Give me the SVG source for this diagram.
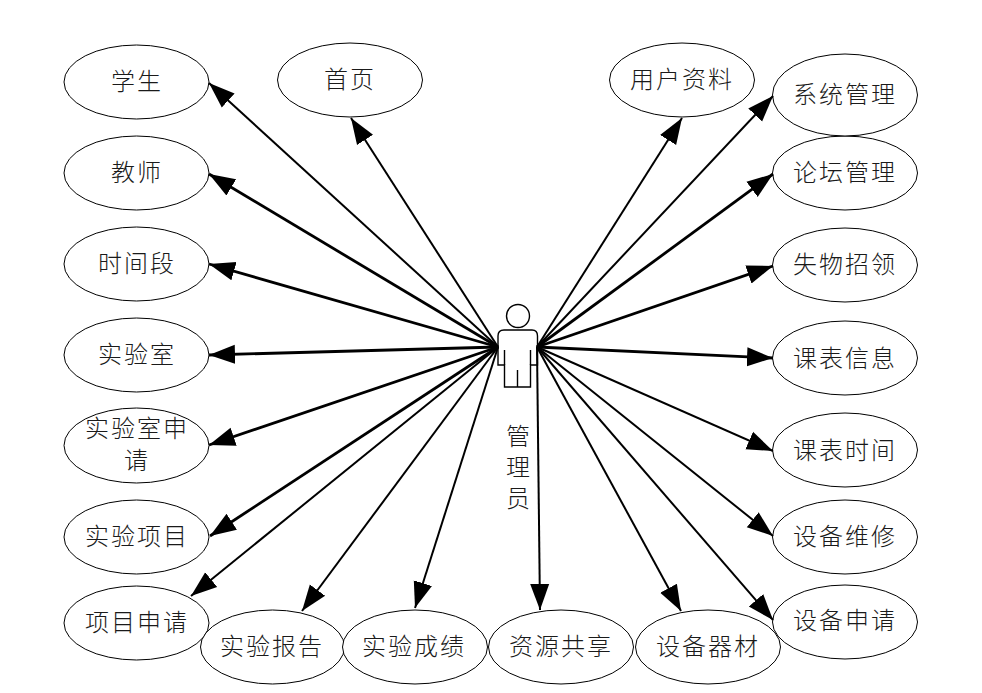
<svg xmlns="http://www.w3.org/2000/svg" width="982" height="693" viewBox="0 0 982 693">
<style>
.n{fill:#fff;stroke:#000;stroke-width:1}
text{font-family:"Noto Sans CJK SC","Liberation Serif",serif;font-size:24px;font-weight:300;fill:#1a1a1a;text-anchor:middle;dominant-baseline:central;letter-spacing:2px}
text.v{writing-mode:vertical-rl;text-anchor:start;letter-spacing:7px}
.c line{stroke:#000;stroke-width:2;marker-end:url(#a)}
.c line.b{stroke-width:2.800}
.p{fill:#fff;stroke:#000;stroke-width:1.400}
</style>
<defs><marker id="a" markerUnits="userSpaceOnUse" markerWidth="28" markerHeight="22" viewBox="0 0 28 22" refX="26" refY="11" orient="auto"><path d="M0 1.500 L26 11 L0 20.500Z" fill="#000"/></marker></defs>
<rect width="982" height="693" fill="#fff"/>
<g id="n1"><ellipse class="n" cx="136.500" cy="82" rx="72.500" ry="37"/><text x="137" y="79">学生</text></g>
<g id="n2"><ellipse class="n" cx="136.500" cy="173" rx="72.500" ry="37"/><text x="137" y="170">教师</text></g>
<g id="n3"><ellipse class="n" cx="136.500" cy="264" rx="72.500" ry="37"/><text x="137" y="261">时间段</text></g>
<g id="n4"><ellipse class="n" cx="136.500" cy="355" rx="72.500" ry="37"/><text x="137" y="352">实验室</text></g>
<g id="n5"><ellipse class="n" cx="136.500" cy="445.500" rx="72.500" ry="37.500"/><text x="137" y="426">实验室申<tspan x="137" dy="32">请</tspan></text></g>
<g id="n6"><ellipse class="n" cx="136.500" cy="537" rx="72.500" ry="37"/><text x="137" y="534">实验项目</text></g>
<g id="n7"><ellipse class="n" cx="136.500" cy="623" rx="72.500" ry="37"/><text x="137" y="620">项目申请</text></g>
<g id="n8"><ellipse class="n" cx="272.500" cy="647" rx="72" ry="37"/><text x="272" y="644">实验报告</text></g>
<g id="n9"><ellipse class="n" cx="415" cy="647" rx="72.500" ry="37"/><text x="414" y="644">实验成绩</text></g>
<g id="n10"><ellipse class="n" cx="561" cy="647" rx="72.500" ry="37"/><text x="561" y="644">资源共享</text></g>
<g id="n11"><ellipse class="n" cx="708" cy="647" rx="72.500" ry="37"/><text x="708" y="644">设备器材</text></g>
<g id="n12"><ellipse class="n" cx="845" cy="622" rx="72.500" ry="37"/><text x="845" y="618">设备申请</text></g>
<g id="n13"><ellipse class="n" cx="845" cy="537" rx="72.500" ry="37"/><text x="845" y="534">设备维修</text></g>
<g id="n14"><ellipse class="n" cx="845" cy="450" rx="72.500" ry="37"/><text x="845" y="448">课表时间</text></g>
<g id="n15"><ellipse class="n" cx="845" cy="358" rx="72.500" ry="37"/><text x="845" y="356">课表信息</text></g>
<g id="n16"><ellipse class="n" cx="845" cy="265" rx="72.500" ry="37"/><text x="845" y="262">失物招领</text></g>
<g id="n17"><ellipse class="n" cx="845" cy="173" rx="72.500" ry="37"/><text x="845" y="170">论坛管理</text></g>
<g id="n18"><ellipse class="n" cx="845" cy="95" rx="72.500" ry="41"/><text x="845" y="92">系统管理</text></g>
<g id="n19"><ellipse class="n" cx="682" cy="80" rx="72.500" ry="37"/><text x="682" y="77">用户资料</text></g>
<g id="n20"><ellipse class="n" cx="350" cy="80" rx="72.500" ry="37"/><text x="350" y="77">首页</text></g>
<g id="actor">
<circle class="p" cx="518" cy="316" r="11.500"/>
<path class="p" d="M504 330H532Q537.500 330 537.500 336V365H530.500V387H504.500V365H498V336Q498 330 504 330Z"/>
<path class="p" fill="none" d="M504.500 350V365M530.500 350V365M517.500 370V387"/>
<text class="v" x="518" y="424">管理员</text>
</g>
<g id="connectors" class="c">
<line x1="498" y1="347" x2="209" y2="83"/>
<line class="b" x1="498" y1="347" x2="209" y2="174"/>
<line class="b" x1="498" y1="347" x2="209" y2="264"/>
<line class="b" x1="498" y1="347" x2="209" y2="355"/>
<line class="b" x1="498" y1="347" x2="209" y2="445"/>
<line class="b" x1="498" y1="347" x2="210" y2="536"/>
<line x1="498" y1="347" x2="191" y2="596"/>
<line x1="498" y1="347" x2="302" y2="611"/>
<line x1="498" y1="347" x2="415" y2="608"/>
<line x1="498" y1="347" x2="351" y2="118"/>
<line x1="537" y1="347" x2="682" y2="118"/>
<line x1="537" y1="347" x2="773" y2="96"/>
<line class="b" x1="537" y1="347" x2="773" y2="174"/>
<line class="b" x1="537" y1="347" x2="773" y2="266"/>
<line class="b" x1="537" y1="347" x2="773" y2="358"/>
<line x1="537" y1="347" x2="773" y2="451"/>
<line x1="537" y1="347" x2="773" y2="536"/>
<line x1="537" y1="347" x2="773" y2="620"/>
<line x1="537" y1="347" x2="681" y2="611"/>
<line x1="537" y1="347" x2="540" y2="610"/>
</g>
</svg>
